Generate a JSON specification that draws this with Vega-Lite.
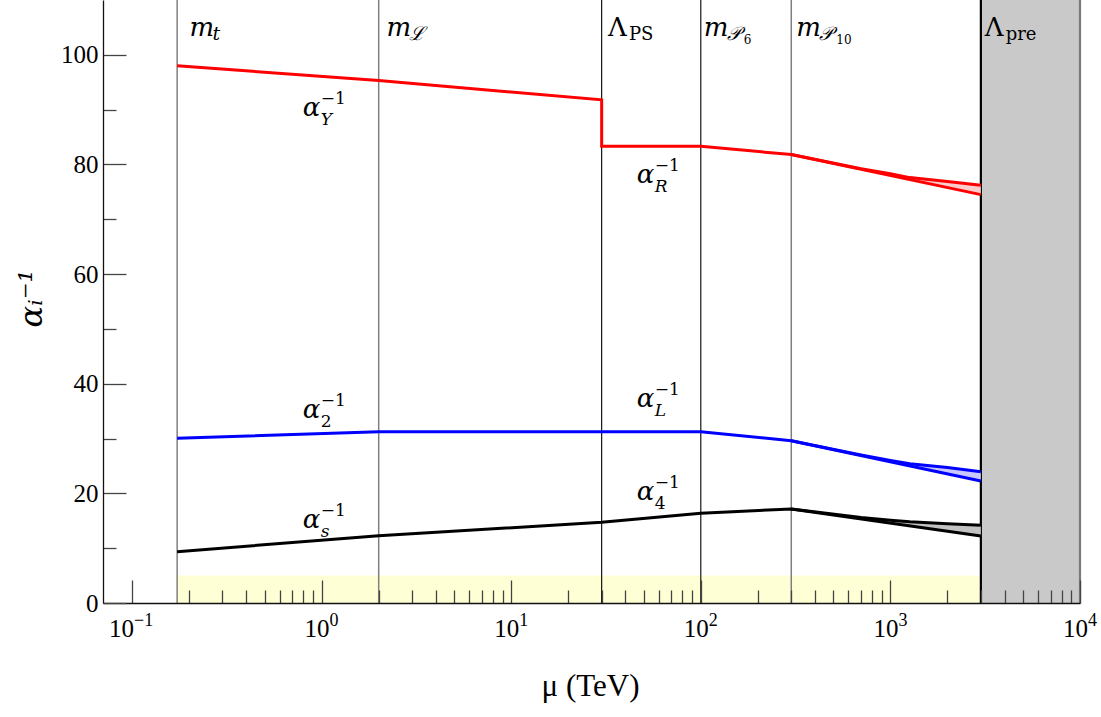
{
  "$schema": "https://vega.github.io/schema/vega-lite/v6.json",
  "width": 977,
  "height": 603,
  "autosize": {"type": "none"},
  "padding": {"left": 103, "top": 0, "right": 21, "bottom": 114},
  "background": "white",
  "config": {"view": {"stroke": null}, "font": "Liberation Serif"},
  "datasets": {
    "bands": [
      {"band": "pre", "mu": 3000, "mu2": 10000},
      {"band": "yellow", "mu": 0.173, "mu2": 3000, "v": 0, "v2": 5}
    ],
    "scales": [
      {"name": "m_t", "mu": 0.173, "lx": 0.2013, "main": "m", "sub": "t", "subsub": ""},
      {"name": "m_L", "mu": 2, "lx": 2.198, "main": "m", "sub": "ℒ", "subsub": ""},
      {"name": "Lambda_PS", "mu": 30, "lx": 32.4, "main": "Λ", "sub": "PS", "subsub": ""},
      {"name": "m_P6", "mu": 100, "lx": 103.5, "main": "m", "sub": "𝒫", "subsub": "6"},
      {"name": "m_P10", "mu": 300, "lx": 319, "main": "m", "sub": "𝒫", "subsub": "10"},
      {"name": "Lambda_pre", "mu": 3000, "lx": 3141, "main": "Λ", "sub": "pre", "subsub": ""},
      {"name": "cutoff", "mu": 10000}
    ],
    "curves": [
      {"series": "R", "branch": "R-lo", "i": 0, "mu": 0.173, "v": 98.0},
      {"series": "R", "branch": "R-lo", "i": 1, "mu": 2, "v": 95.3},
      {"series": "R", "branch": "R-lo", "i": 2, "mu": 30, "v": 91.8},
      {"series": "R", "branch": "R-lo", "i": 3, "mu": 30, "v": 83.3},
      {"series": "R", "branch": "R-lo", "i": 4, "mu": 100, "v": 83.3},
      {"series": "R", "branch": "R-lo", "i": 5, "mu": 300, "v": 81.8},
      {"series": "R", "branch": "R-lo", "i": 6, "mu": 3000, "v": 74.5},
      {"series": "R", "branch": "R-hi", "i": 0, "mu": 300, "v": 81.8},
      {"series": "R", "branch": "R-hi", "i": 1, "mu": 700, "v": 79.2},
      {"series": "R", "branch": "R-hi", "i": 2, "mu": 1000, "v": 78.3},
      {"series": "R", "branch": "R-hi", "i": 3, "mu": 1265, "v": 77.6},
      {"series": "R", "branch": "R-hi", "i": 4, "mu": 2000, "v": 76.9},
      {"series": "R", "branch": "R-hi", "i": 5, "mu": 3000, "v": 76.2},
      {"series": "L", "branch": "L-lo", "i": 0, "mu": 0.173, "v": 30.05},
      {"series": "L", "branch": "L-lo", "i": 1, "mu": 2, "v": 31.26},
      {"series": "L", "branch": "L-lo", "i": 2, "mu": 30, "v": 31.26},
      {"series": "L", "branch": "L-lo", "i": 3, "mu": 100, "v": 31.26},
      {"series": "L", "branch": "L-lo", "i": 4, "mu": 300, "v": 29.6},
      {"series": "L", "branch": "L-lo", "i": 5, "mu": 3000, "v": 22.26},
      {"series": "L", "branch": "L-hi", "i": 0, "mu": 300, "v": 29.6},
      {"series": "L", "branch": "L-hi", "i": 1, "mu": 700, "v": 27.0},
      {"series": "L", "branch": "L-hi", "i": 2, "mu": 1000, "v": 26.0},
      {"series": "L", "branch": "L-hi", "i": 3, "mu": 1265, "v": 25.4},
      {"series": "L", "branch": "L-hi", "i": 4, "mu": 2000, "v": 24.7},
      {"series": "L", "branch": "L-hi", "i": 5, "mu": 3000, "v": 23.96},
      {"series": "S", "branch": "S-lo", "i": 0, "mu": 0.173, "v": 9.36},
      {"series": "S", "branch": "S-lo", "i": 1, "mu": 2, "v": 12.28},
      {"series": "S", "branch": "S-lo", "i": 2, "mu": 30, "v": 14.72},
      {"series": "S", "branch": "S-lo", "i": 3, "mu": 100, "v": 16.37},
      {"series": "S", "branch": "S-lo", "i": 4, "mu": 300, "v": 17.15},
      {"series": "S", "branch": "S-lo", "i": 5, "mu": 3000, "v": 12.23},
      {"series": "S", "branch": "S-hi", "i": 0, "mu": 300, "v": 17.15},
      {"series": "S", "branch": "S-hi", "i": 1, "mu": 700, "v": 15.6},
      {"series": "S", "branch": "S-hi", "i": 2, "mu": 1000, "v": 15.1},
      {"series": "S", "branch": "S-hi", "i": 3, "mu": 1265, "v": 14.8},
      {"series": "S", "branch": "S-hi", "i": 4, "mu": 2000, "v": 14.45},
      {"series": "S", "branch": "S-hi", "i": 5, "mu": 3000, "v": 14.18}
    ],
    "fans": [
      {"series": "R", "mu": 300, "v": 81.8, "v2": 81.8},
      {"series": "R", "mu": 700, "v": 79.1, "v2": 79.2},
      {"series": "R", "mu": 1000, "v": 78.0, "v2": 78.3},
      {"series": "R", "mu": 1265, "v": 77.2, "v2": 77.6},
      {"series": "R", "mu": 2000, "v": 75.8, "v2": 76.9},
      {"series": "R", "mu": 3000, "v": 74.5, "v2": 76.2},
      {"series": "L", "mu": 300, "v": 29.6, "v2": 29.6},
      {"series": "L", "mu": 700, "v": 26.9, "v2": 27.0},
      {"series": "L", "mu": 1000, "v": 25.76, "v2": 26.0},
      {"series": "L", "mu": 1265, "v": 25.0, "v2": 25.4},
      {"series": "L", "mu": 2000, "v": 23.55, "v2": 24.7},
      {"series": "L", "mu": 3000, "v": 22.26, "v2": 23.96},
      {"series": "S", "mu": 300, "v": 17.15, "v2": 17.15},
      {"series": "S", "mu": 700, "v": 15.34, "v2": 15.6},
      {"series": "S", "mu": 1000, "v": 14.58, "v2": 15.1},
      {"series": "S", "mu": 1265, "v": 14.07, "v2": 14.8},
      {"series": "S", "mu": 2000, "v": 13.1, "v2": 14.45},
      {"series": "S", "mu": 3000, "v": 12.23, "v2": 14.18}
    ],
    "clabels": [
      {"mu": 0.795, "v": 88.9, "main": "α", "sub": "Y", "sup": "−1"},
      {"mu": 45.9, "v": 76.7, "main": "α", "sub": "R", "sup": "−1"},
      {"mu": 0.795, "v": 33.7, "main": "α", "sub": "2", "sup": "−1"},
      {"mu": 45.9, "v": 35.8, "main": "α", "sub": "L", "sup": "−1"},
      {"mu": 0.795, "v": 13.6, "main": "α", "sub": "s", "sup": "−1"},
      {"mu": 45.9, "v": 18.7, "main": "α", "sub": "4", "sup": "−1"}
    ],
    "decades": [
      {"mu": 0.1, "exp": "−1"},
      {"mu": 1, "exp": "0"},
      {"mu": 10, "exp": "1"},
      {"mu": 100, "exp": "2"},
      {"mu": 1000, "exp": "3"},
      {"mu": 10000, "exp": "4"}
    ]
  },
  "layer": [
    {
      "data": {"name": "bands"},
      "transform": [{"filter": "datum.band == 'pre'"}],
      "mark": {"type": "rect", "color": "#c9c9c9"},
      "encoding": {
        "x": {
          "field": "mu", "type": "quantitative", "title": "μ (TeV)",
          "scale": {"type": "log", "domain": [0.0703, 10000], "nice": false},
          "axis": {
            "zindex": 2,
            "values": [0.1,0.2,0.3,0.4,0.5,0.6,0.7,0.8,0.9,1,2,3,4,5,6,7,8,9,10,20,30,40,50,60,70,80,90,100,200,300,400,500,600,700,800,900,1000,2000,3000,4000,5000,6000,7000,8000,9000,10000],
            "labels": false,
            "grid": false,
            "tickSize": {"condition": {"test": "abs(log(datum.value)/LN10 - round(log(datum.value)/LN10)) < 0.001", "value": -23}, "value": -13},
            "tickColor": "#444", "tickWidth": 1.3,
            "domainColor": "#111", "domainWidth": 1.3,
            "titleFont": "Liberation Serif", "titleFontSize": 31, "titleFontWeight": "normal", "titleColor": "black",
            "titleX": 487, "titleY": 92, "titleAlign": "center", "titleBaseline": "alphabetic"
          }
        },
        "x2": {"field": "mu2"}
      }
    },
    {
      "data": {"name": "bands"},
      "transform": [{"filter": "datum.band == 'yellow'"}],
      "mark": {"type": "rect", "color": "#ffffd6"},
      "encoding": {
        "x": {"field": "mu", "type": "quantitative", "title": "μ (TeV)"},
        "x2": {"field": "mu2"},
        "y": {
          "field": "v", "type": "quantitative", "title": "αᵢ⁻¹",
          "scale": {"domain": [0, 110], "nice": false},
          "axis": {
            "zindex": 2,
            "values": [0,10,20,30,40,50,60,70,80,90,100],
            "labelExpr": "datum.value % 20 == 0 ? datum.label : ''",
            "grid": false,
            "tickSize": {"condition": {"test": "datum.value % 20 == 0", "value": -23}, "value": -13},
            "tickColor": "#444", "tickWidth": 1.3,
            "domainColor": "#111", "domainWidth": 1.3,
            "labelFont": "Liberation Serif", "labelFontSize": 25, "labelColor": "black", "labelPadding": 28,
            "titleFont": "DejaVu Serif", "titleFontSize": 32, "titleFontStyle": "italic", "titleFontWeight": "normal", "titleColor": "black",
            "titleAngle": 270, "titleX": -62, "titleY": 298, "titleAlign": "center", "titleBaseline": "alphabetic"
          }
        },
        "y2": {"field": "v2"}
      }
    },
    {
      "data": {"name": "scales"},
      "transform": [{"filter": {"field": "name", "oneOf": ["m_t", "m_L", "m_P10"]}}],
      "mark": {"type": "rule", "color": "#7f7f7f", "strokeWidth": 1.5},
      "encoding": {"x": {"field": "mu", "type": "quantitative"}}
    },
    {
      "data": {"name": "scales"},
      "transform": [{"filter": {"field": "name", "oneOf": ["Lambda_PS", "m_P6"]}}],
      "mark": {"type": "rule", "color": "#000000", "strokeWidth": 1.1},
      "encoding": {"x": {"field": "mu", "type": "quantitative"}}
    },
    {
      "data": {"name": "scales"},
      "transform": [{"filter": "datum.name == 'Lambda_pre'"}],
      "mark": {"type": "rule", "color": "#000000", "strokeWidth": 2.2},
      "encoding": {"x": {"field": "mu", "type": "quantitative"}}
    },
    {
      "data": {"name": "scales"},
      "transform": [{"filter": "datum.name == 'cutoff'"}],
      "mark": {"type": "rule", "color": "#7a7a7a", "strokeWidth": 2.2},
      "encoding": {"x": {"field": "mu", "type": "quantitative"}}
    },
    {
      "data": {"name": "fans"},
      "mark": {"type": "area", "opacity": 1},
      "encoding": {
        "x": {"field": "mu", "type": "quantitative"},
        "y": {"field": "v", "type": "quantitative"},
        "y2": {"field": "v2"},
        "fill": {"field": "series", "type": "nominal", "legend": null, "scale": {"domain": ["R", "L", "S"], "range": ["#ffcccc", "#c8c8ff", "#c2c2c2"]}}
      }
    },
    {
      "data": {"name": "curves"},
      "mark": {"type": "line", "strokeWidth": 3},
      "encoding": {
        "x": {"field": "mu", "type": "quantitative"},
        "y": {"field": "v", "type": "quantitative"},
        "color": {"field": "series", "type": "nominal", "legend": null, "scale": {"domain": ["R", "L", "S"], "range": ["#ff0000", "#0000ff", "#000000"]}},
        "detail": {"field": "branch"},
        "order": {"field": "i", "type": "quantitative"}
      }
    },
    {
      "data": {"name": "scales"},
      "transform": [{"filter": "datum.main == 'm'"}],
      "layer": [
        {"mark": {"type": "text", "font": "DejaVu Serif", "fontStyle": "italic", "fontSize": 26, "align": "left", "baseline": "alphabetic", "color": "black"},
         "encoding": {"x": {"field": "lx", "type": "quantitative"}, "y": {"datum": 103.5}, "text": {"field": "main"}}},
        {"mark": {"type": "text", "font": "DejaVu Serif", "fontStyle": "italic", "fontSize": 19, "align": "left", "baseline": "alphabetic", "color": "black", "dx": 23, "dy": 4},
         "encoding": {"x": {"field": "lx", "type": "quantitative"}, "y": {"datum": 103.5}, "text": {"field": "sub"}}},
        {"mark": {"type": "text", "font": "DejaVu Serif", "fontSize": 12, "align": "left", "baseline": "alphabetic", "color": "black", "dx": 40, "dy": 8},
         "encoding": {"x": {"field": "lx", "type": "quantitative"}, "y": {"datum": 103.5}, "text": {"field": "subsub"}}}
      ]
    },
    {
      "data": {"name": "scales"},
      "transform": [{"filter": "datum.main == 'Λ'"}],
      "layer": [
        {"mark": {"type": "text", "font": "DejaVu Serif", "fontSize": 26, "align": "left", "baseline": "alphabetic", "color": "black"},
         "encoding": {"x": {"field": "lx", "type": "quantitative"}, "y": {"datum": 103.5}, "text": {"field": "main"}}},
        {"mark": {"type": "text", "font": "DejaVu Serif", "fontSize": 18, "align": "left", "baseline": "alphabetic", "color": "black", "dx": 21, "dy": 4},
         "encoding": {"x": {"field": "lx", "type": "quantitative"}, "y": {"datum": 103.5}, "text": {"field": "sub"}}}
      ]
    },
    {
      "data": {"name": "clabels"},
      "layer": [
        {"mark": {"type": "text", "font": "DejaVu Serif", "fontStyle": "italic", "fontSize": 26, "align": "left", "baseline": "alphabetic", "color": "black"},
         "encoding": {"x": {"field": "mu", "type": "quantitative"}, "y": {"field": "v", "type": "quantitative"}, "text": {"field": "main"}}},
        {"transform": [{"filter": "!test(/[0-9]/, datum.sub)"}],
         "mark": {"type": "text", "font": "DejaVu Serif", "fontStyle": "italic", "fontSize": 17, "align": "left", "baseline": "alphabetic", "color": "black", "dx": 18, "dy": 9},
         "encoding": {"x": {"field": "mu", "type": "quantitative"}, "y": {"field": "v", "type": "quantitative"}, "text": {"field": "sub"}}},
        {"transform": [{"filter": "test(/[0-9]/, datum.sub)"}],
         "mark": {"type": "text", "font": "DejaVu Serif", "fontSize": 17, "align": "left", "baseline": "alphabetic", "color": "black", "dx": 18, "dy": 9},
         "encoding": {"x": {"field": "mu", "type": "quantitative"}, "y": {"field": "v", "type": "quantitative"}, "text": {"field": "sub"}}},
        {"mark": {"type": "text", "font": "DejaVu Serif", "fontSize": 17, "align": "left", "baseline": "alphabetic", "color": "black", "dx": 18, "dy": -12},
         "encoding": {"x": {"field": "mu", "type": "quantitative"}, "y": {"field": "v", "type": "quantitative"}, "text": {"field": "sup"}}}
      ]
    },
    {
      "data": {"name": "decades"},
      "layer": [
        {"transform": [{"filter": "datum.exp != '−1'"}],
         "mark": {"type": "text", "font": "Liberation Serif", "fontSize": 25, "align": "right", "baseline": "alphabetic", "color": "black", "dx": 8, "dy": 34},
         "encoding": {"x": {"field": "mu", "type": "quantitative"}, "y": {"datum": 0}, "text": {"value": "10"}}},
        {"transform": [{"filter": "datum.exp != '−1'"}],
         "mark": {"type": "text", "font": "Liberation Serif", "fontSize": 18, "align": "left", "baseline": "alphabetic", "color": "black", "dx": 8, "dy": 23},
         "encoding": {"x": {"field": "mu", "type": "quantitative"}, "y": {"datum": 0}, "text": {"field": "exp"}}},
        {"transform": [{"filter": "datum.exp == '−1'"}],
         "mark": {"type": "text", "font": "Liberation Serif", "fontSize": 25, "align": "right", "baseline": "alphabetic", "color": "black", "dx": 2, "dy": 34},
         "encoding": {"x": {"field": "mu", "type": "quantitative"}, "y": {"datum": 0}, "text": {"value": "10"}}},
        {"transform": [{"filter": "datum.exp == '−1'"}],
         "mark": {"type": "text", "font": "Liberation Serif", "fontSize": 18, "align": "left", "baseline": "alphabetic", "color": "black", "dx": 2, "dy": 23},
         "encoding": {"x": {"field": "mu", "type": "quantitative"}, "y": {"datum": 0}, "text": {"field": "exp"}}}
      ]
    }
  ]
}
